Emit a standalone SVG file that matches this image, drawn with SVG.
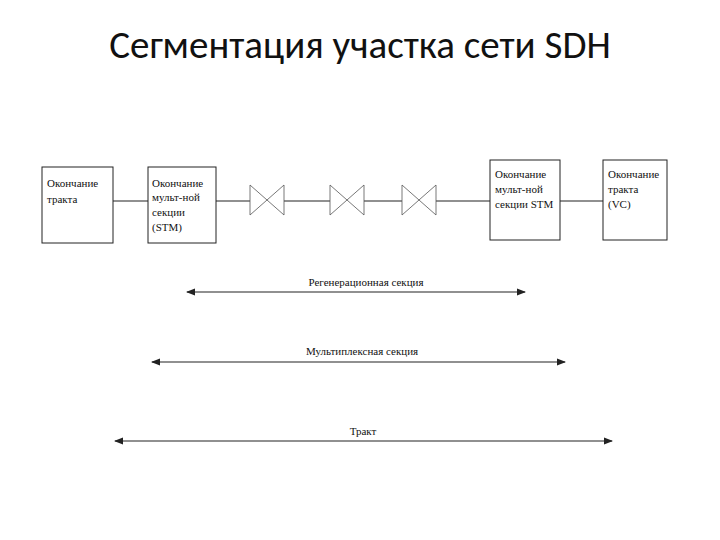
<svg xmlns="http://www.w3.org/2000/svg" width="720" height="540" viewBox="0 0 720 540">
<style>
.t{font-family:"Liberation Serif",serif;font-size:11px;fill:#111}
.b{fill:#fff;stroke:#222;stroke-width:1}
.l{stroke:#222;stroke-width:1.2;fill:none}
.r{fill:#fff;stroke:#555;stroke-width:0.8}
</style>
<defs><marker id="a" markerWidth="8" markerHeight="6" refX="7" refY="3" orient="auto-start-reverse"><path d="M0,0L8,3L0,6z" fill="#222"/></marker></defs>
<rect width="720" height="540" fill="#fff"/>
<text x="360" y="58" text-anchor="middle" font-family="Carlito,Calibri,'Liberation Sans',sans-serif" font-size="39" fill="#111">Сегментация участка сети SDH</text>
<g id="connectors">
<path class="l" d="M113,201H148M216,201H250M284,201H330M364,201H402M436,201H490M560,201H603"/>
<path class="l" d="M187,292H525" marker-start="url(#a)" marker-end="url(#a)"/>
<path class="l" d="M152,362H565" marker-start="url(#a)" marker-end="url(#a)"/>
<path class="l" d="M115,441H612" marker-start="url(#a)" marker-end="url(#a)"/>
</g>
<g id="n1"><rect class="b" x="42" y="167" width="71" height="76"/><text class="t" x="47" y="187">Окончание</text><text class="t" x="47" y="203">тракта</text></g>
<g id="n2"><rect class="b" x="148" y="167" width="68" height="76"/><text class="t" x="152" y="187">Окончание</text><text class="t" x="152" y="201">мульт-ной</text><text class="t" x="152" y="216">секции</text><text class="t" x="152" y="231">(STM)</text></g>
<g id="rep1"><path class="r" d="M250,185L284,215V185L250,215Z"/></g>
<g id="rep2"><path class="r" d="M330,185L364,215V185L330,215Z"/></g>
<g id="rep3"><path class="r" d="M402,185L436,215V185L402,215Z"/></g>
<g id="n3"><rect class="b" x="490" y="160" width="70" height="80"/><text class="t" x="495" y="178">Окончание</text><text class="t" x="495" y="193">мульт-ной</text><text class="t" x="495" y="208">секции STM</text></g>
<g id="n4"><rect class="b" x="603" y="160" width="64" height="80"/><text class="t" x="608" y="178">Окончание</text><text class="t" x="608" y="193">тракта</text><text class="t" x="608" y="208">(VC)</text></g>
<text class="t" x="366" y="286" text-anchor="middle">Регенерационная секция</text>
<text class="t" x="362" y="355" text-anchor="middle">Мультиплексная секция</text>
<text class="t" x="363" y="435" text-anchor="middle">Тракт</text>
</svg>
